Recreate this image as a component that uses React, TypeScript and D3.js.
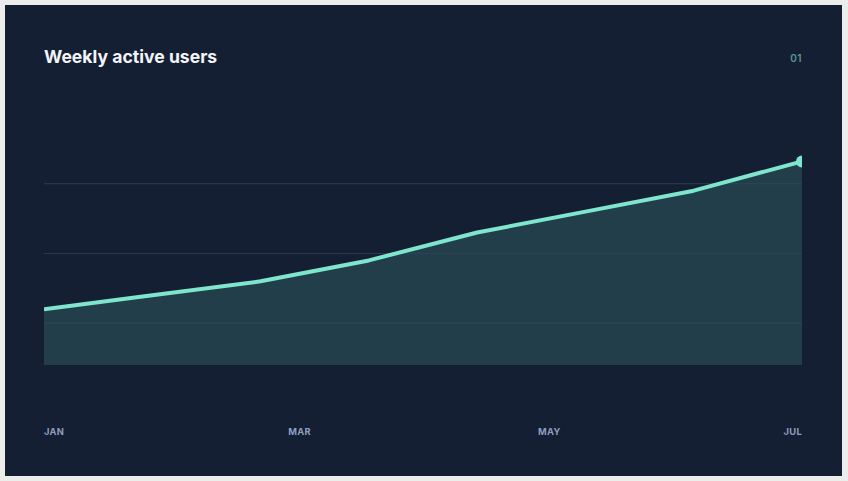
import { useEffect, useRef } from "react";
import * as d3 from "d3";

// weekly active users, thousands (8 samples Jan → Jul)
const weeks = [0, 1, 2, 3, 4, 5, 6, 7];
const users = [11, 12, 13, 14.5, 16.5, 18, 19.5, 21.6];
const gridValues = [10, 15, 20];
const monthLabels = ["JAN", "MAR", "MAY", "JUL"];
const monthPos = [0, 2, 4, 6]; // month index out of 6

export default function App() {
  const ref = useRef<SVGSVGElement>(null);

  useEffect(() => {
    document.body.style.margin = "0";
    const svg = d3.select(ref.current);
    svg.selectAll("*").remove();

    const width = 848;
    const height = 481;
    const left = 44, right = 802, top = 114, bottom = 365;

    svg.append("rect").attr("width", width).attr("height", height).attr("fill", "#eceeec");
    svg.append("rect")
      .attr("x", 5).attr("y", 5)
      .attr("width", 837).attr("height", 471)
      .attr("fill", "#141f33");

    const x = d3.scaleLinear().domain([0, 7]).range([left, right]);
    const y = d3.scaleLinear().domain([7, 25]).range([bottom, top]);
    const xm = d3.scaleLinear().domain([0, 6]).range([left, right]);

    svg.append("defs").append("clipPath").attr("id", "plot-clip")
      .append("rect")
      .attr("x", left).attr("y", top - 20)
      .attr("width", right - left).attr("height", bottom - top + 20);

    // gridlines
    svg.append("g")
      .selectAll("line")
      .data(gridValues)
      .join("line")
      .attr("x1", left).attr("x2", right)
      .attr("y1", (d) => y(d)).attr("y2", (d) => y(d))
      .attr("stroke", "#22304a")
      .attr("stroke-width", 1);

    const plot = svg.append("g").attr("clip-path", "url(#plot-clip)");

    const area = d3.area<number>()
      .x((_, i) => x(weeks[i]))
      .y0(bottom)
      .y1((d) => y(d));

    plot.append("path")
      .datum(users)
      .attr("d", area)
      .attr("fill", "#3a6a6e")
      .attr("fill-opacity", 0.42);

    // gridlines faintly over the area
    plot.append("g")
      .selectAll("line")
      .data(gridValues)
      .join("line")
      .attr("x1", left).attr("x2", right)
      .attr("y1", (d) => y(d)).attr("y2", (d) => y(d))
      .attr("stroke", "#2e4654")
      .attr("stroke-opacity", 0.6)
      .attr("stroke-width", 1);

    const line = d3.line<number>()
      .x((_, i) => x(weeks[i]))
      .y((d) => y(d));

    plot.append("path")
      .datum(users)
      .attr("d", line)
      .attr("fill", "none")
      .attr("stroke", "#7ee6cc")
      .attr("stroke-width", 4)
      .attr("stroke-linejoin", "round");

    plot.append("circle")
      .attr("cx", x(weeks[weeks.length - 1]))
      .attr("cy", y(users[users.length - 1]))
      .attr("r", 6)
      .attr("fill", "#7ee6cc");

    // title + index
    svg.append("text")
      .attr("x", left).attr("y", 63)
      .attr("fill", "#f3f5f8")
      .attr("font-family", "Inter, 'DejaVu Sans', sans-serif")
      .attr("font-weight", 700)
      .attr("font-size", 17.6)
      .text("Weekly active users");

    svg.append("text")
      .attr("x", right).attr("y", 62)
      .attr("text-anchor", "end")
      .attr("fill", "#5e9690")
      .attr("font-family", "Inter, 'DejaVu Sans', sans-serif")
      .attr("font-weight", 600)
      .attr("font-size", 10)
      .attr("letter-spacing", 0.5)
      .text("01");

    // month labels
    svg.append("g")
      .selectAll("text")
      .data(monthLabels)
      .join("text")
      .attr("x", (_, i) => xm(monthPos[i]) + (i === 1 ? 3 : 0))
      .attr("y", 435)
      .attr("text-anchor", (_, i) => (i === 0 ? "start" : i === monthLabels.length - 1 ? "end" : "middle"))
      .attr("fill", "#8d9ebd")
      .attr("font-family", "Inter, 'DejaVu Sans', sans-serif")
      .attr("font-weight", 700)
      .attr("font-size", 9.3)
      .attr("letter-spacing", 0.3)
      .text((d) => d);
  }, []);

  return (
    <div style={{ position: "absolute", top: 0, left: 0 }}>
      <svg ref={ref} width={848} height={481} style={{ display: "block" }} />
    </div>
  );
}
